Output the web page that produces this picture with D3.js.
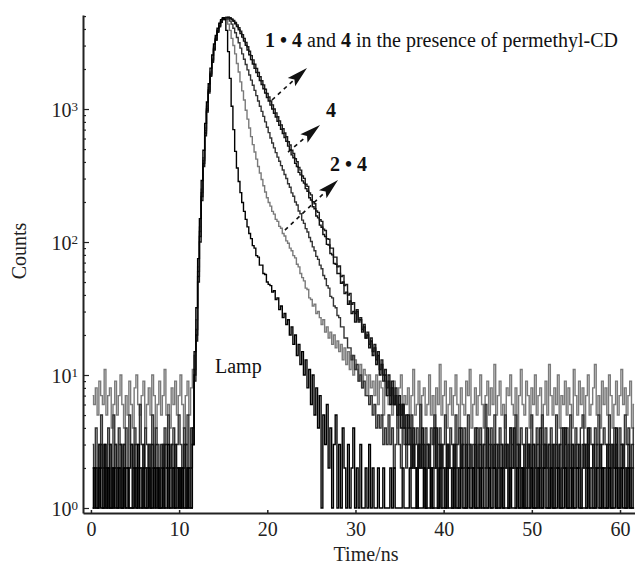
<!DOCTYPE html>
<html><head><meta charset="utf-8">
<script src="https://cdn.jsdelivr.net/npm/d3@7/dist/d3.min.js"></script>
<style>
html,body{margin:0;padding:0;background:#fff;}
svg{display:block;}
</style></head>
<body><svg id="c" width="635" height="566"></svg>
<script>
// channel timing (ns): channel i sits at t0 + i*dt
const t0 = 0.2, dt = 0.2;
const xTicks = [0, 10, 20, 30, 40, 50, 60];
const yTickExps = [0, 1, 2, 3];

// counts per channel (each row = 2 ns)
const cplx24 = [
7,6,8,5,9,7,6,11,5,7, 8,4,6,9,5,7,10,6,4,7, 5,9,6,4,8,10,6,5,7,9, 4,6,8,5,10,7,4,6,9,5,
7,11,5,6,4,8,6,9,5,7, 10,6,4,7,9,5,8,11,14,26,
65,130,250,430,720,1050,1450,1900,2400,2950, 3450,3950,4300,4600,4780,4850,4700,4350,3900,3400,
3000,2600,2200,1900,1600,1370,1170,980,840,720, 620,540,475,420,370,330,295,265,238,215,
198,186,170,162,148,143,131,127,116,111, 102,98,90,86,79,76,68,65,58,54,
51,45,44,38,37,33,34,29,30,27, 24,26,21,23,19,21,17,20,16,18, 15,17,13,16,12,15,11,14,10,13,
11,9,12,8,11,10,7,10,8,9, 7,10,6,9,8,5,9,7,6,8,
5,9,6,4,8,10,5,7,6,8, 4,7,11,5,6,9,3,7,8,5, 6,10,5,7,4,8,6,12,5,7, 9,4,6,8,5,7,10,6,4,8,
6,5,9,7,11,4,6,8,5,7, 10,6,4,7,9,5,8,6,12,5, 7,9,5,6,4,8,7,10,6,5, 8,3,7,11,6,5,9,7,4,8,
6,10,5,7,8,4,6,9,5,12, 7,5,8,6,10,4,7,6,9,5, 8,6,4,11,7,5,9,6,8,4, 7,10,5,6,8,12,5,7,4,9,
6,8,5,10,7,4,6,9,5,7, 11,6,8,5,7,9,4,6];

const free4 = [
3,2,4,2,3,5,2,3,1,4, 3,2,5,3,2,4,3,1,3,4, 2,5,3,2,4,3,2,6,3,2, 4,3,2,3,5,2,4,3,1,3,
2,4,3,5,2,3,4,2,3,5, 3,2,4,3,5,2,4,3,11,22,
60,120,235,410,690,1010,1400,1850,2350,2880, 3380,3880,4250,4560,4760,4850,4850,4750,4580,4350,
4050,3750,3450,3150,2870,2600,2370,2160,1970,1800, 1650,1510,1380,1260,1150,1050,960,880,800,730,
665,605,555,510,470,435,405,375,348,322, 300,274,258,234,221,200,190,171,163,146,
138,126,119,108,101,92,86,78,74,67, 63,56,53,47,45,39,38,33,32,28, 27,23,23,19,19,16,16,13,14,11,
12,9,10,8,9,7,7,6,7,5, 6,4,5,4,5,3,4,3,5,3,
4,2,3,5,3,2,4,3,2,4, 3,5,2,3,4,2,6,3,2,4, 3,2,4,3,5,2,3,4,1,3, 5,3,2,4,3,2,5,3,4,2,
3,4,2,5,3,2,3,4,2,3, 4,2,3,6,2,3,4,2,5,3, 2,4,3,2,5,3,2,4,3,2, 5,3,2,4,3,1,4,3,2,5,
3,2,4,3,2,5,3,4,2,3, 4,2,3,5,2,3,4,2,3,4, 2,5,3,2,4,3,2,4,5,3, 3,2,4,3,2,4,3,5,2,3,
4,3,2,5,3,2,4,3,2,4, 3,2,5,3,4,2,3,4];

const cplx14 = [
2,1,2,1,3,2,1,2,2,1, 3,1,2,2,1,2,3,1,2,1, 1,2,3,1,2,1,2,2,1,3, 2,1,2,1,3,2,2,1,2,1,
1,3,2,1,2,2,1,3,2,1, 2,1,2,3,1,2,2,4,10,20,
55,110,220,390,660,980,1360,1800,2300,2830, 3330,3830,4200,4520,4730,4830,4890,4880,4800,4700,
4560,4380,4170,3950,3700,3470,3240,3010,2780,2560, 2350,2180,2020,1880,1760,1640,1530,1420,1320,1220,
1150,1070,1000,930,870,810,755,705,655,610, 572,526,494,452,430,390,370,334,320,288,
277,252,241,215,207,184,178,157,152,134, 129,114,110,96,95,82,80,69,68,58, 58,49,50,41,42,34,36,29,30,25,
30,25,26,21,23,19,20,16,18,14, 16,12,14,10,12,9,10,7,9,6, 8,6,7,5,6,4,6,4,3,5,
4,2,3,2,1,3,2,4,2,1, 3,2,1,2,4,2,1,3,2,2, 1,3,2,2,1,3,2,1,2,4, 2,1,3,2,2,1,2,3,1,2,
3,2,1,2,4,2,1,2,3,1, 2,2,3,1,2,3,1,2,2,4, 1,2,3,2,1,2,2,3,1,2, 3,1,2,2,4,1,2,3,2,1,
2,3,1,2,2,3,1,2,4,2, 1,2,3,1,2,2,3,1,2,3, 2,4,1,2,3,1,2,2,3,1, 2,1,3,2,1,3,2,4,1,2,
3,2,1,2,3,1,2,2];

const cd4 = [
1,2,2,1,2,3,1,1,2,2, 1,2,1,3,2,1,2,1,3,2, 2,1,1,2,3,2,1,2,2,1, 1,2,3,1,2,1,3,2,1,2,
3,1,2,2,1,3,2,1,2,2, 1,2,3,1,2,2,1,3,9,18,
50,100,205,370,630,950,1320,1760,2250,2780, 3280,3780,4160,4480,4700,4820,4890,4900,4850,4760,
4640,4480,4290,4080,3850,3620,3390,3160,2940,2720, 2520,2340,2170,2020,1880,1750,1630,1520,1410,1310,
1230,1150,1075,1000,935,875,815,760,710,660, 618,568,536,490,464,423,401,364,347,314,
301,272,262,234,226,201,194,171,167,147, 143,125,122,106,105,90,90,77,77,65, 66,55,56,47,48,40,41,34,35,29,
31,26,27,22,24,19,21,17,19,15, 17,13,15,11,13,10,11,8,10,7, 9,6,8,5,7,5,6,4,5,3,
3,2,4,2,1,3,2,2,3,1, 2,3,2,1,2,4,1,2,3,2, 2,1,3,2,2,1,3,2,1,2, 3,2,1,2,3,2,2,1,4,2,
1,2,3,2,1,2,3,2,2,1, 3,1,2,2,3,2,1,4,2,2, 2,3,1,2,2,3,1,2,3,2, 1,2,3,1,2,2,3,2,1,3,
2,1,2,3,2,1,2,4,2,1, 3,2,1,2,3,2,2,1,3,2, 1,3,2,2,1,2,3,2,1,2, 2,2,1,3,2,1,2,3,2,1,
2,3,2,1,2,2,1,3];

const lamp = [
1,2,1,1,2,1,1,3,1,2, 1,1,2,1,1,2,1,1,2,1, 2,1,1,1,2,1,3,1,1,2, 1,1,2,1,1,2,1,2,1,1,
2,1,1,3,1,1,2,1,1,2, 1,2,1,1,2,1,1,3,15,32,
75,150,290,490,780,1130,1550,2030,2550,3080, 3580,4050,4420,4700,4850,4700,3900,2700,1700,1050,
700,480,360,285,235,198,170,148,130,116, 106,94,90,79,77,67,67,58,57,50,
48,47,42,43,37,38,31,33,27,29, 24,26,20,23,17,20,14,17,12,15,
10,13,8,11,6,10,5,8,4,7, 1,5,3,6,2,4,1,3,5,1, 3,1,4,2,1,3,1,2,4,1,
2,1,3,1,1,2,1,3,1,2, 1,1,2,1,1,2,1,1,1,2, 1,2,1,1,1,1,2,1,1,1,
2,1,1,1,2,1,1,1,2,1, 1,1,2,1,1,1,1,2,1,1, 1,2,1,1,1,2,1,1,1,2, 1,1,1,2,1,1,2,1,1,1,
2,1,1,1,1,2,1,1,2,1, 1,1,2,1,1,1,1,2,1,1, 1,2,1,1,2,1,1,1,1,2, 1,1,1,2,1,1,2,1,1,1,
2,1,1,1,2,1,1,1,2,1, 1,1,2,1,1,2,1,1,1,1, 1,2,1,1,1,1,2,1,1,2, 1,1,1,2,1,1,1,2,1,1,
2,1,1,1,2,1,1,1];

const seriesList = [
  {name: "2·4", values: cplx24, color: "#7a7a7a"},
  {name: "4", values: free4, color: "#333333"},
  {name: "4 + permethyl-CD", values: cd4, color: "#1a1a1a"},
  {name: "1·4", values: cplx14, color: "#111111"},
  {name: "Lamp", values: lamp, color: "#000000"}
];

// annotation anchors in data units (ns, counts)
const arrows = [
  {from: [20.53, 1169], to: [24.50, 2034]},
  {from: [22.35, 475], to: [25.98, 758]},
  {from: [22.0, 123], to: [28.02, 293]}
];

const svg = d3.select("#c");
const mLeft = 83, mRight = 635, mTop = 15, mBottom = 513;
const FONT = "'Liberation Serif', 'Times New Roman', serif";
const FS = 20;

const x = d3.scaleLinear().domain([-0.9, 61.7]).range([mLeft, mRight]);
const y = d3.scaleLog().domain([0.917, 5093]).range([mBottom, mTop]);

svg.append("defs").append("clipPath").attr("id", "plot")
  .append("rect").attr("x", mLeft).attr("y", mTop).attr("width", mRight - mLeft).attr("height", mBottom - mTop);

const line = d3.line()
  .x(d => x(d.t))
  .y(d => y(Math.max(d.v, 1)))
  .curve(d3.curveStep);

const g = svg.append("g").attr("clip-path", "url(#plot)");
seriesList.forEach(s => {
  const data = s.values.map((v, i) => ({t: t0 + i * dt, v}));
  g.append("path").datum(data)
    .attr("d", line)
    .attr("fill", "none")
    .attr("stroke", s.color)
    .attr("stroke-width", 1.4)
    .attr("stroke-linejoin", "miter");
});

// y axis: log ticks inward
const minorVals = [];
yTickExps.forEach(e => { for (let k = 2; k <= 9; k++) { const v = k * Math.pow(10, e); if (v <= 5093) minorVals.push(v); } });
const majorVals = yTickExps.map(e => Math.pow(10, e));

const yAxisMinor = d3.axisRight(y).tickValues(minorVals).tickSizeInner(3).tickSizeOuter(0).tickFormat("");
const yAxisMajor = d3.axisRight(y).tickValues(majorVals).tickSizeInner(6).tickSizeOuter(0).tickFormat("");
const ga1 = svg.append("g").attr("transform", `translate(${mLeft},0)`).call(yAxisMinor);
const ga2 = svg.append("g").attr("transform", `translate(${mLeft},0)`).call(yAxisMajor);
ga2.select(".domain").remove();
[ga1, ga2].forEach(a => {
  a.selectAll("line").attr("stroke", "#222").attr("stroke-width", 1.2);
  a.select(".domain").attr("stroke", "#222").attr("stroke-width", 2);
});

// y tick labels 10^n
yTickExps.forEach(e => {
  const t = svg.append("text")
    .attr("x", 78).attr("y", y(Math.pow(10, e)) + 8)
    .attr("text-anchor", "end")
    .attr("font-family", FONT).attr("font-size", FS).attr("fill", "#222");
  t.append("tspan").text("10");
  t.append("tspan").attr("font-size", 13).attr("dy", -6).text(e);
});

// x axis
const xAxis = d3.axisBottom(x).tickValues(xTicks).tickSizeInner(-3).tickSizeOuter(0).tickPadding(9);
const gx = svg.append("g").attr("transform", `translate(0,${mBottom})`).call(xAxis);
gx.select(".domain").attr("stroke", "#222").attr("stroke-width", 2);
gx.selectAll("line").attr("stroke", "#222").attr("stroke-width", 1.5);
gx.selectAll("text").attr("font-family", FONT).attr("font-size", FS).attr("fill", "#222");

// axis titles
svg.append("text").attr("x", 366).attr("y", 561).attr("text-anchor", "middle")
  .attr("font-family", FONT).attr("font-size", FS).attr("fill", "#222").text("Time/ns");
svg.append("text").attr("transform", "translate(26,251) rotate(-90)").attr("text-anchor", "middle")
  .attr("font-family", FONT).attr("font-size", FS).attr("fill", "#222").text("Counts");

// annotations
function label(tx, ty, parts) {
  const t = svg.append("text").attr("x", x(tx)).attr("y", y(ty))
    .attr("font-family", FONT).attr("font-size", FS).attr("fill", "#111");
  parts.forEach(p => {
    const s = t.append("tspan").text(p.s);
    if (p.b) s.attr("font-weight", "bold");
  });
}
label(19.74, 2922, [{s: "1", b: 1}, {s: " • ", b: 1}, {s: "4", b: 1}, {s: " and "}, {s: "4", b: 1}, {s: " in the presence of permethyl-CD"}]);
label(26.66, 871, [{s: "4", b: 1}]);
label(27.11, 342, [{s: "2", b: 1}, {s: " • ", b: 1}, {s: "4", b: 1}]);
label(14.07, 10.4, [{s: "Lamp"}]);

arrows.forEach(a => {
  const x1 = x(a.from[0]), y1 = y(a.from[1]);
  const x2 = x(a.to[0]), y2 = y(a.to[1]);
  const ang = Math.atan2(y2 - y1, x2 - x1);
  const L = 21, Wd = 5.5;
  const bx = x2 - L * Math.cos(ang), by = y2 - L * Math.sin(ang);
  svg.append("line").attr("x1", x1).attr("y1", y1).attr("x2", bx + 3 * Math.cos(ang)).attr("y2", by + 3 * Math.sin(ang))
    .attr("stroke", "#111").attr("stroke-width", 1.6).attr("stroke-dasharray", "4,4");
  const nx = -Math.sin(ang), ny = Math.cos(ang);
  svg.append("path")
    .attr("d", `M${x2},${y2}L${bx + Wd * nx},${by + Wd * ny}L${bx + 4 * Math.cos(ang)},${by + 4 * Math.sin(ang)}L${bx - Wd * nx},${by - Wd * ny}Z`)
    .attr("fill", "#111");
});
</script></body></html>
